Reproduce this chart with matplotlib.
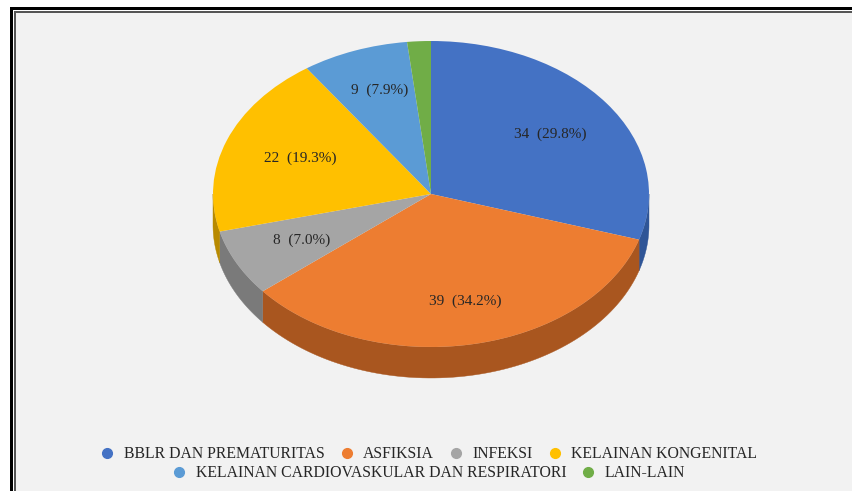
import numpy as np
import matplotlib
matplotlib.use("Agg")
import matplotlib.pyplot as plt
from matplotlib.lines import Line2D
from matplotlib.patches import Rectangle

categories = ["BBLR DAN PREMATURITAS", "ASFIKSIA", "INFEKSI", "KELAINAN KONGENITAL",
              "KELAINAN CARDIOVASKULAR DAN RESPIRATORI", "LAIN-LAIN"]
values = [34, 39, 8, 22, 9, 2]
labels = ["34  (29.8%)", "39  (34.2%)", "8  (7.0%)", "22  (19.3%)", "9  (7.9%)", ""]
top_colors = ["#4472C4", "#ED7D31", "#A5A5A5", "#FFC000", "#5B9BD5", "#70AD47"]
side_colors = ["#2F5597", "#A9561F", "#7A7A7A", "#B88A00", "#3F75A5", "#4F7D32"]
label_r = [0.672, 0.717, 0.667, 0.645, 0.719, 0.6]
label_turn = [0.6, -1.5, 0.1, 0.9, 1.5, 0]

W, H = 852, 491
cx, cy, rx, ry, depth = 431, 194, 218, 153, 31

plt.rcParams["font.family"] = ["Liberation Serif", "DejaVu Serif"]
fig = plt.figure(figsize=(W / 100, H / 100), dpi=100, facecolor="white")


def fig_rect(x0, y0, x1, y1, color):
    # pixel box, y measured from the top
    fig.add_artist(Rectangle((x0 / W, 1 - y1 / H), (x1 - x0) / W, (y1 - y0) / H,
                             transform=fig.transFigure, color=color, lw=0, zorder=-5))


# frame only shows on top and left, the picture is cropped on the other sides
fig_rect(10, 7, W, H, "black")
fig_rect(13, 10, W, H, "white")
fig_rect(14, 11, W, H, "#555555")
fig_rect(16, 13, W, H, "#F2F2F2")

ax = fig.add_axes([0, 0, 1, 1])
ax.patch.set_alpha(0)

# clockwise from 12 o'clock, front of the cake is 90..270 degrees
edges = np.cumsum([0] + values) / sum(values) * 360
for i in range(len(values)):
    a0, a1 = max(edges[i], 90), min(edges[i + 1], 270)
    if a1 <= a0:
        continue
    t = np.radians(np.linspace(a0, a1, 80))
    xs = np.sin(t)
    ys = np.cos(t)
    ax.fill(np.r_[xs, xs[::-1]], np.r_[ys, ys[::-1] - depth / ry],
            color=side_colors[i], lw=0.3, zorder=1)

wedges, _ = ax.pie(values, colors=top_colors, startangle=90, counterclock=False,
                   radius=1, wedgeprops={"linewidth": 0})
for w in wedges:
    w.set_zorder(2)

for i, lab in enumerate(labels):
    mid = np.radians((edges[i] + edges[i + 1]) / 2 + label_turn[i])
    ax.text(label_r[i] * np.sin(mid), label_r[i] * np.cos(mid), lab, ha="center", va="center",
            fontsize=11, color="#262626", zorder=3)

ax.set_aspect("auto")
ax.set_xlim(-cx / rx, (W - cx) / rx)
ax.set_ylim((cy - H) / ry, cy / ry)


def legend_row(idx, y):
    handles = [Line2D([], [], ls="", marker="o", ms=7, mfc=top_colors[i], mec=top_colors[i]) for i in idx]
    fig.legend(handles, [categories[i] for i in idx], loc="center", bbox_to_anchor=(427.5 / W, 1 - y / H),
               ncol=len(idx), frameon=False, fontsize=11.3, handlelength=1.2, handletextpad=0.45,
               columnspacing=0.8, labelcolor="#262626", borderpad=0)


legend_row([0, 1, 2, 3], 454)
legend_row([4, 5], 473)

fig.savefig("out.png", dpi=100)
